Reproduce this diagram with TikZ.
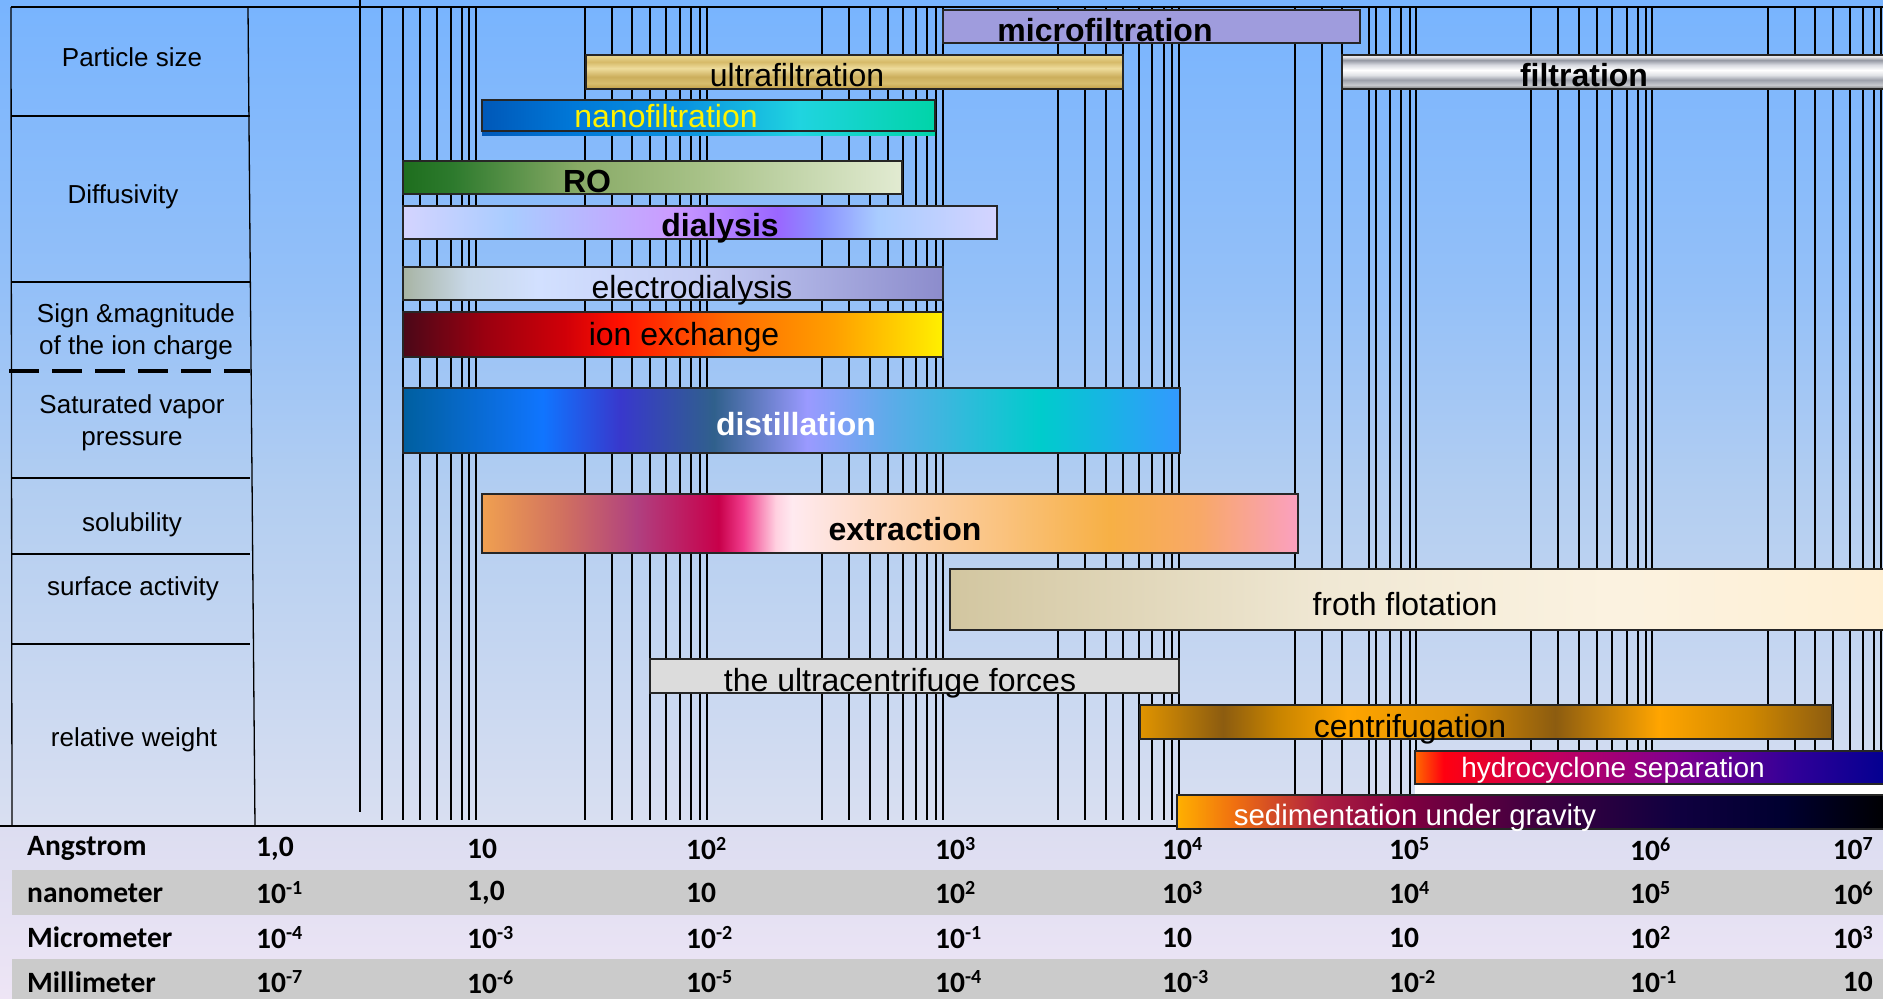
\documentclass[tikz,border=0pt]{standalone}
\usepackage{fontspec}
\setmainfont{Liberation Sans}
\newfontfamily\tabfont{Carlito}
\usetikzlibrary{shadings}

% background and table colours
\definecolor{skyA}{HTML}{D9DFF1}
\definecolor{skyB}{HTML}{B3CEF1}
\definecolor{skyC}{HTML}{94C0F8}
\definecolor{skyD}{HTML}{78B4FE}
\definecolor{tabA}{HTML}{EEE5F5}
\definecolor{tabB}{HTML}{DCDDF1}
\definecolor{rowgray}{HTML}{CBCBCB}
\definecolor{microc}{HTML}{9F9CDD}
\definecolor{ucfc}{HTML}{DCDCDC}
% bar colours
\definecolor{goldA}{HTML}{C9A751}\definecolor{goldB}{HTML}{D8BE6E}
\definecolor{goldC}{HTML}{CCAE5C}\definecolor{goldD}{HTML}{EEDC9C}
\definecolor{goldE}{HTML}{D6BA68}\definecolor{goldF}{HTML}{E8D38C}
\definecolor{silA}{HTML}{808080}\definecolor{silB}{HTML}{C8CACF}
\definecolor{silC}{HTML}{9CA0AA}\definecolor{silD}{HTML}{E0E2E6}
\definecolor{silE}{HTML}{D8DAE0}\definecolor{silF}{HTML}{9498A2}
\definecolor{silG}{HTML}{E8E8EC}
\definecolor{nanoA}{HTML}{0058B8}\definecolor{nanoB}{HTML}{0078D8}
\definecolor{nanoC}{HTML}{0A94E0}\definecolor{nanoD}{HTML}{20D4E0}
\definecolor{nanoE}{HTML}{00D4A8}
\definecolor{roA}{HTML}{1E6E1E}\definecolor{roB}{HTML}{2D7A2D}
\definecolor{roC}{HTML}{88AA66}\definecolor{roD}{HTML}{A8C288}
\definecolor{roE}{HTML}{E2EBD2}
\definecolor{dialA}{HTML}{D4D4FF}\definecolor{dialB}{HTML}{A9CCFF}
\definecolor{dialC}{HTML}{CB9CFF}\definecolor{dialD}{HTML}{9A66FF}
\definecolor{dialE}{HTML}{8A90FF}
\definecolor{elA}{HTML}{A8B4A4}\definecolor{elB}{HTML}{C8D8E8}
\definecolor{elC}{HTML}{D2E0FF}\definecolor{elD}{HTML}{C4CCF4}
\definecolor{elE}{HTML}{8C8CCC}
\definecolor{ionA}{HTML}{4A0818}\definecolor{ionB}{HTML}{9A0010}
\definecolor{ionC}{HTML}{D00008}\definecolor{ionD}{HTML}{FF1000}
\definecolor{ionE}{HTML}{FF6A00}\definecolor{ionF}{HTML}{FFA000}
\definecolor{ionG}{HTML}{FFF000}
\definecolor{disA}{HTML}{005F9F}\definecolor{disB}{HTML}{1075FF}
\definecolor{disC}{HTML}{3838CC}\definecolor{disD}{HTML}{30608C}
\definecolor{disE}{HTML}{9A9AFF}\definecolor{disF}{HTML}{60AAEA}
\definecolor{disG}{HTML}{00CCCC}\definecolor{disH}{HTML}{3399FF}
\definecolor{exA}{HTML}{F0A050}\definecolor{exB}{HTML}{D07060}
\definecolor{exC}{HTML}{B04080}\definecolor{exD}{HTML}{C8004A}
\definecolor{exE}{HTML}{F03C8C}\definecolor{exF}{HTML}{FFD0E0}
\definecolor{exG}{HTML}{FFEAF0}\definecolor{exH}{HTML}{FCD0A8}
\definecolor{exI}{HTML}{F7B045}\definecolor{exJ}{HTML}{F8A868}
\definecolor{exK}{HTML}{FAA0C0}
\definecolor{frA}{HTML}{D2C6A0}\definecolor{frB}{HTML}{F0E8D4}
\definecolor{frC}{HTML}{FBF2E0}\definecolor{frD}{HTML}{FFF0D4}
\definecolor{ceA}{HTML}{E09400}\definecolor{ceB}{HTML}{8C5C10}
\definecolor{ceC}{HTML}{C88400}\definecolor{ceD}{HTML}{FFA500}
\definecolor{ceE}{HTML}{E09000}\definecolor{ceF}{HTML}{D08800}
\definecolor{hyA}{HTML}{FF6A00}\definecolor{hyB}{HTML}{FF0010}
\definecolor{hyC}{HTML}{C00060}\definecolor{hyD}{HTML}{800090}
\definecolor{hyE}{HTML}{300098}\definecolor{hyF}{HTML}{000090}
\definecolor{seA}{HTML}{FFB000}\definecolor{seB}{HTML}{F07010}
\definecolor{seC}{HTML}{B02040}\definecolor{seD}{HTML}{800040}
\definecolor{seE}{HTML}{400040}\definecolor{seF}{HTML}{100040}
\definecolor{seG}{HTML}{000030}\definecolor{seH}{HTML}{000000}

% shadings (path is mapped on 25bp..75bp)
\pgfdeclareverticalshading{sky}{100bp}{color(0bp)=(skyA); color(25bp)=(skyA);
  color(45bp)=(skyB); color(57.5bp)=(skyC); color(75bp)=(skyD); color(100bp)=(skyD)}
\pgfdeclareverticalshading{tabshade}{100bp}{color(0bp)=(tabA); color(25bp)=(tabA);
  color(75bp)=(tabB); color(100bp)=(tabB)}
\pgfdeclareverticalshading{gold}{100bp}{color(0bp)=(goldA); color(27.5bp)=(goldA);
  color(33.5bp)=(goldB); color(43bp)=(goldC); color(55.5bp)=(goldD);
  color(65bp)=(goldE); color(72.5bp)=(goldF); color(100bp)=(goldF)}
\pgfdeclareverticalshading{silver}{100bp}{color(0bp)=(silA); color(26bp)=(silA);
  color(31bp)=(silB); color(38.5bp)=(silC); color(45.5bp)=(silD); color(53bp)=(white);
  color(60.5bp)=(silE); color(67.5bp)=(silF); color(72.5bp)=(silG); color(100bp)=(silG)}
\pgfdeclarehorizontalshading{nano}{100bp}{color(0bp)=(nanoA); color(25bp)=(nanoA);
  color(35bp)=(nanoB); color(47.5bp)=(nanoC); color(60bp)=(nanoD);
  color(75bp)=(nanoE); color(100bp)=(nanoE)}
\pgfdeclarehorizontalshading{ro}{100bp}{color(0bp)=(roA); color(25bp)=(roA);
  color(30bp)=(roB); color(42.5bp)=(roC); color(55bp)=(roD);
  color(75bp)=(roE); color(100bp)=(roE)}
\pgfdeclarehorizontalshading{dial}{100bp}{color(0bp)=(dialA); color(25bp)=(dialA);
  color(34bp)=(dialB); color(47.5bp)=(dialC); color(56.5bp)=(dialD); color(60bp)=(dialE);
  color(65bp)=(dialB); color(75bp)=(dialA); color(100bp)=(dialA)}
\pgfdeclarehorizontalshading{elec}{100bp}{color(0bp)=(elA); color(25bp)=(elA);
  color(31bp)=(elB); color(37.5bp)=(elC); color(52.5bp)=(elD);
  color(75bp)=(elE); color(100bp)=(elE)}
\pgfdeclarehorizontalshading{ionex}{100bp}{color(0bp)=(ionA); color(25bp)=(ionA);
  color(32.5bp)=(ionB); color(40bp)=(ionC); color(45bp)=(ionD); color(55bp)=(ionE);
  color(65bp)=(ionF); color(75bp)=(ionG); color(100bp)=(ionG)}
\pgfdeclarehorizontalshading{dist}{100bp}{color(0bp)=(disA); color(25bp)=(disA);
  color(34bp)=(disB); color(39bp)=(disC); color(45bp)=(disD); color(51bp)=(disE);
  color(56bp)=(disF); color(66bp)=(disG); color(75bp)=(disH); color(100bp)=(disH)}
\pgfdeclarehorizontalshading{extr}{100bp}{color(0bp)=(exA); color(25bp)=(exA);
  color(30bp)=(exB); color(34.5bp)=(exC); color(39.5bp)=(exD); color(41bp)=(exE);
  color(43bp)=(exF); color(44bp)=(exG); color(52bp)=(exH); color(63.5bp)=(exI);
  color(69bp)=(exJ); color(75bp)=(exK); color(100bp)=(exK)}
\pgfdeclarehorizontalshading{froth}{100bp}{color(0bp)=(frA); color(25bp)=(frA);
  color(45bp)=(frB); color(60bp)=(frC); color(75bp)=(frD); color(100bp)=(frD)}
\pgfdeclarehorizontalshading{centr}{100bp}{color(0bp)=(ceA); color(25bp)=(ceA);
  color(31bp)=(ceB); color(35bp)=(ceC); color(40bp)=(ceD); color(47.5bp)=(ceE);
  color(55bp)=(ceB); color(62.5bp)=(ceD); color(69bp)=(ceF); color(75bp)=(ceB);
  color(100bp)=(ceB)}
\pgfdeclarehorizontalshading{hydro}{100bp}{color(0bp)=(hyA); color(25bp)=(hyA);
  color(28bp)=(hyB); color(40bp)=(hyC); color(52.5bp)=(hyD); color(65bp)=(hyE);
  color(75bp)=(hyF); color(100bp)=(hyF)}
\pgfdeclarehorizontalshading{sedim}{100bp}{color(0bp)=(seA); color(25bp)=(seA);
  color(29bp)=(seB); color(35bp)=(seC); color(41bp)=(seD); color(50bp)=(seE);
  color(60bp)=(seF); color(67.5bp)=(seG); color(75bp)=(seH); color(100bp)=(seH)}

\newcommand{\pw}[1]{\raisebox{9pt}{\fontsize{20}{20}\selectfont #1}}

\begin{document}
\begin{tikzpicture}[x=1pt,y=-1pt,
  gline/.style={line width=1.3pt},
  procbar/.style={draw=black!85,line width=1.6pt},
  barlbl/.style={inner sep=0pt,font=\fontsize{32}{38}\selectfont},
  boldlbl/.style={barlbl,font=\fontsize{32}{38}\selectfont\bfseries},
  sidelbl/.style={inner sep=0pt,align=center,font=\fontsize{26}{32}\selectfont},
  vallbl/.style={inner sep=0pt,anchor=west,font=\tabfont\bfseries\fontsize{29.5}{34}\selectfont}]
\useasboundingbox (0,0) rectangle (1883,999);

% background
\shade[shading=sky] (0,0) rectangle (1883,826);
\shade[shading=tabshade] (0,826) rectangle (1883,999);
\fill[rowgray] (12,870) rectangle (1883,915);
\fill[rowgray] (12,959) rectangle (1883,999);

% log grid
\draw[gline] (360,0) -- (360,812);
\foreach \x in {382,403,420,437,451,462,469,476,
                585,612,632,650,666,680,691,700,707,
                822,849,870,888,903,916,927,936,943,
                1058,1085,1106,1123,1139,1152,1164,1172,1179,
                1295,1322,1342,1369,1376,1390,1401,1410,1416,
                1531,1558,1579,1597,1612,1627,1638,1646,1652,
                1768,1795,1815,1833,1850,1863,1874,1881}
  \draw[gline] (\x,7) -- (\x,820);

% frame and property column
\draw[gline] (11,7) -- (1883,7);
\draw[gline] (0,826) -- (1883,826);
\draw[gline] (11,7) -- (12,826);
\draw[gline] (248,7) -- (255,826);
\foreach \y in {116,282,478,554,644}
  \draw[gline] (11,\y) -- (250,\y);
\draw[line width=3.5pt,dash pattern=on 30pt off 13pt] (9,371) -- (250,371);

\node[sidelbl] (psize)  at (132,57)  {Particle size};
\node[sidelbl] (diff)   at (123,197) {Diffusivity};
\node[sidelbl] (charge) at (136,332) {Sign \&magnitude\\of the ion charge};
\node[sidelbl] (vapor)  at (132,423) {Saturated vapor\\pressure};
\node[sidelbl] (solub)  at (132,525) {solubility};
\node[sidelbl] (surf)   at (133,589) {surface activity};
\node[sidelbl] (relw)   at (134,740) {relative weight};

% process bars
\draw[procbar,fill=microc] (943,10) rectangle (1360,43);
\node[boldlbl] (micro) at (1105,30) {microfiltration};
\draw[procbar,shading=gold] (586,55) rectangle (1123,89);
\node[barlbl] (ultra) at (797,75) {ultrafiltration};
\draw[procbar,shading=silver] (1342,55) rectangle (1890,89);
\node[boldlbl] (filt) at (1584,75) {filtration};
\fill[shading=nano] (482,131) rectangle (935,135);
\draw[procbar,shading=nano] (482,100) rectangle (935,131);
\node[barlbl,text=yellow] (nano) at (666,116) {nanofiltration};
\draw[procbar,shading=ro] (403,161) rectangle (902,194);
\node[boldlbl] (ro) at (587,181) {RO};
\draw[procbar,shading=dial] (403,206) rectangle (997,239);
\node[boldlbl] (dial) at (720,228) {dialysis};
\draw[procbar,shading=elec] (403,267) rectangle (943,300);
\node[barlbl] (elec) at (692,290) {electrodialysis};
\draw[procbar,shading=ionex] (403,312) rectangle (943,357);
\node[barlbl] (ion) at (684,337) {ion exchange};
\draw[procbar,shading=dist] (403,388) rectangle (1180,453);
\node[boldlbl,text=white] (dist) at (796,424) {distillation};
\draw[procbar,shading=extr] (482,494) rectangle (1298,553);
\node[boldlbl] (extr) at (905,529) {extraction};
\draw[procbar,shading=froth] (950,569) rectangle (1890,630);
\node[barlbl] (froth) at (1405,604) {froth flotation};
\draw[procbar,fill=ucfc] (650,659) rectangle (1179,693);
\node[barlbl] (ucf) at (900,683) {the ultracentrifuge forces};
\draw[procbar,shading=centr] (1140,705) rectangle (1832,739);
\node[barlbl] (centr) at (1410,729) {centrifugation};
\draw[procbar,shading=hydro] (1415,751) rectangle (1890,784);
\fill[white] (1415,785) rectangle (1890,795);
\node[barlbl,font=\fontsize{28}{34}\selectfont,text=white] (hydro) at (1613,770) {hydrocyclone separation};
\draw[procbar,shading=sedim] (1177,795) rectangle (1890,829);
\node[barlbl,font=\fontsize{29.5}{35}\selectfont,text=white] (sedim) at (1415,818) {sedimentation under gravity};

% unit table
\foreach \u [count=\r] in {Angstrom,nanometer,Micrometer,Millimeter}
  \node[vallbl] (unit-\r) at (27,{804+44.5*\r}) {\u};
\foreach \x/\v [count=\c] in {256/{1,0},467/10,686/10\pw{2},935/10\pw{3},1162/10\pw{4},1389/10\pw{5},1630/10\pw{6}}
  \node[vallbl] (ang-\c) at (\x,849) {\v};
\foreach \x/\v [count=\c] in {256/10\pw{-1},467/{1,0},686/10,935/10\pw{2},1162/10\pw{3},1389/10\pw{4},1630/10\pw{5}}
  \node[vallbl] (nm-\c) at (\x,893) {\v};
\foreach \x/\v [count=\c] in {256/10\pw{-4},467/10\pw{-3},686/10\pw{-2},935/10\pw{-1},1162/10,1389/10,1630/10\pw{2}}
  \node[vallbl] (um-\c) at (\x,938) {\v};
\foreach \x/\v [count=\c] in {256/10\pw{-7},467/10\pw{-6},686/10\pw{-5},935/10\pw{-4},1162/10\pw{-3},1389/10\pw{-2},1630/10\pw{-1}}
  \node[vallbl] (mm-\c) at (\x,982) {\v};
\foreach \v [count=\r] in {10\pw{7},10\pw{6},10\pw{3},10}
  \node[vallbl,anchor=east] (last-\r) at (1873,{804+44.5*\r}) {\v};
\end{tikzpicture}
\end{document}
